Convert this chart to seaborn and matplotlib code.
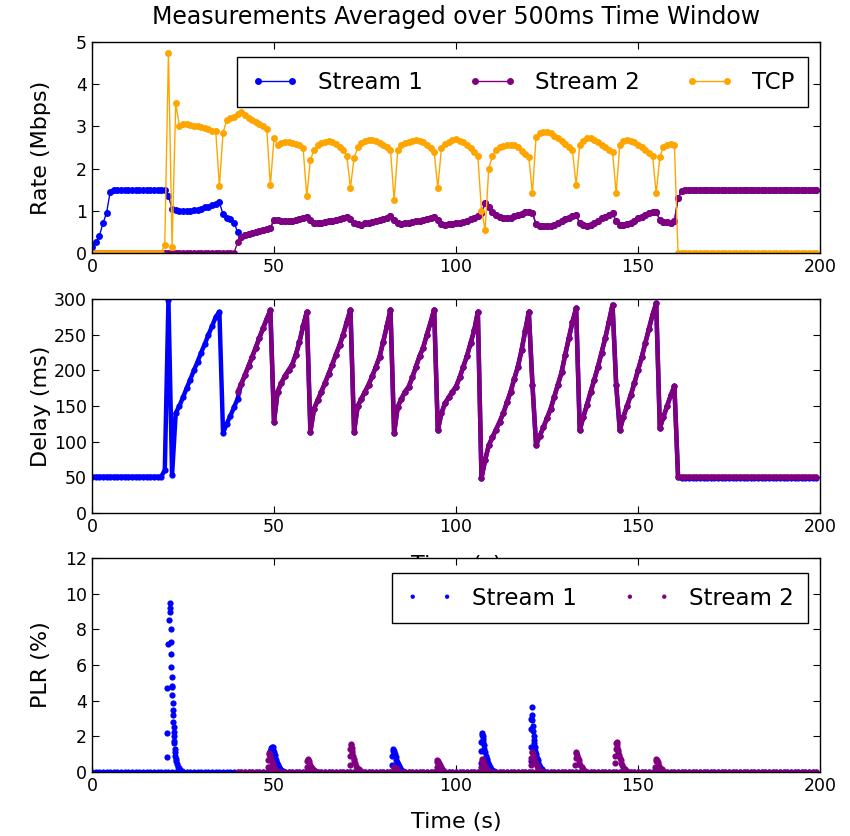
import numpy as np
import pandas as pd
import matplotlib
matplotlib.use("Agg")
import matplotlib.pyplot as plt
import seaborn as sns

# ---------------- data (1 s grid, 0..199 s) ----------------
time_s = np.arange(0, 200, 1.0)

# Rate (Mbps)
rate_s1_early = [0.15, 0.25, 0.4, 0.7, 0.95, 1.45,
                 1.5, 1.5, 1.5, 1.5, 1.5, 1.5, 1.5, 1.5, 1.5, 1.5, 1.5, 1.5, 1.5, 1.5, 1.5,
                 1.35, 1.05, 1.02, 1.0, 1.0, 1.0, 1.0, 1.02, 1.03, 1.05,
                 1.08, 1.1, 1.13, 1.17, 1.2, 0.92, 0.84, 0.8, 0.72, 0.5]          # t 0..40
rate_s2_idle = [0.0] * 40                                                       # t 0..39
rate_s2_active = [
    0.25, 0.38, 0.42, 0.45, 0.47, 0.5, 0.52, 0.54, 0.56, 0.6,
    0.78, 0.78, 0.76, 0.75, 0.76, 0.77, 0.78, 0.8, 0.82, 0.86,
    0.78, 0.72, 0.7, 0.72, 0.74, 0.75, 0.77, 0.79, 0.81, 0.83,
    0.86, 0.8, 0.72, 0.68, 0.67, 0.7, 0.72, 0.74, 0.76, 0.79,
    0.8, 0.83, 0.87, 0.78, 0.7, 0.68, 0.7, 0.72, 0.74, 0.76,
    0.77, 0.78, 0.8, 0.83, 0.86, 0.78, 0.68, 0.66, 0.68, 0.69,
    0.7, 0.72, 0.74, 0.77, 0.8, 0.83, 0.88, 0.95, 1.18, 1.1,
    0.98, 0.9, 0.85, 0.82, 0.82, 0.84, 0.87, 0.9, 0.93, 0.96,
    0.98, 0.95, 0.68, 0.64, 0.63, 0.63, 0.64, 0.67, 0.72, 0.76,
    0.8, 0.84, 0.88, 0.9, 0.7, 0.66, 0.65, 0.67, 0.72, 0.77,
    0.82, 0.86, 0.9, 0.94, 0.75, 0.66, 0.66, 0.68, 0.72, 0.77,
    0.82, 0.86, 0.9, 0.94, 0.97, 0.98, 0.78, 0.74, 0.73, 0.72,
    0.75, 1.3, 1.48]                                                            # t 40..162
rate_s2_final = [1.5] * 37                                                      # t 163..199
tcp_off_start = [0.0] * 20                                                      # t 0..19
tcp_active = [
    0.2, 4.75, 0.15, 3.55, 3.02, 3.05, 3.05, 3.03, 3.02, 3.0,
    2.98, 2.96, 2.93, 2.9, 2.88, 1.58, 2.85, 3.15, 3.2, 3.22,
    3.3, 3.35, 3.28, 3.2, 3.15, 3.1, 3.05, 3.0, 2.95, 1.6,
    2.72, 2.55, 2.6, 2.62, 2.62, 2.6, 2.58, 2.55, 2.48, 1.35,
    2.2, 2.45, 2.55, 2.6, 2.63, 2.65, 2.62, 2.58, 2.52, 2.45,
    2.3, 1.55, 2.25, 2.5, 2.6, 2.65, 2.68, 2.68, 2.65, 2.6,
    2.55, 2.5, 2.45, 1.25, 2.44, 2.55, 2.6, 2.64, 2.66, 2.68,
    2.66, 2.62, 2.55, 2.48, 2.4, 1.55, 2.48, 2.58, 2.64, 2.68,
    2.69, 2.66, 2.62, 2.55, 2.48, 2.4, 2.3, 1.0, 0.55, 2.0,
    2.3, 2.44, 2.5, 2.53, 2.55, 2.56, 2.55, 2.5, 2.42, 2.35,
    2.28, 1.41, 2.76, 2.84, 2.87, 2.87, 2.84, 2.78, 2.72, 2.65,
    2.58, 2.5, 2.43, 1.61, 2.56, 2.66, 2.72, 2.72, 2.68, 2.62,
    2.55, 2.5, 2.45, 2.4, 1.41, 2.56, 2.65, 2.68, 2.66, 2.62,
    2.56, 2.5, 2.45, 2.38, 2.3, 1.41, 2.28, 2.52, 2.56, 2.58,
    2.56]                                                                       # t 20..160
tcp_off_end = [0.0] * 39                                                        # t 161..199

# Delay (ms)
delay_s1_early = [51] * 20 + [
    60, 299, 53, 140, 150, 162, 175, 187, 200, 212,
    225, 237, 250, 262, 275, 282, 112, 125, 136, 148, 160]                      # t 0..40
delay_s2_active = [
    170, 181, 193, 206, 219, 232, 246, 259, 272, 284,
    128, 170, 182, 192, 200, 208, 222, 240, 262, 282,
    114, 146, 158, 170, 182, 195, 208, 222, 235, 250,
    268, 285, 114, 150, 160, 170, 180, 192, 205, 219,
    240, 262, 285, 112, 149, 160, 170, 177, 190, 205,
    220, 232, 250, 267, 285, 116, 140, 154, 162, 170,
    177, 190, 205, 220, 238, 256, 282, 49, 74, 95,
    106, 117, 128, 140, 155, 170, 188, 205, 228, 255,
    282, 180, 95, 108, 120, 133, 146, 163, 180, 197,
    222, 245, 268, 287, 116, 135, 152, 170, 187, 205,
    225, 245, 268, 292, 180, 116, 135, 150, 165, 182,
    200, 218, 238, 258, 278, 294, 119, 135, 150, 165,
    178, 51]                                                                    # t 40..161
delay_s2_final = [51] * 38                                                      # t 162..199
delay_s1_final = [49] * 38                                                      # t 162..199

# PLR (%) : zero baseline on the 1 s grid, plus loss bursts
plr_s1_base = [0.0] * 200
plr_s2_base = [0.0] * 160                                                       # t 40..199
plr_s1_burst_t = [
    20.7, 20.7, 20.7, 21.0, 21.2, 21.3, 21.4, 21.5, 21.6, 21.6, 21.7, 21.8, 21.9, 22.0, 22.0,
    22.1, 22.15, 22.2, 22.25, 22.3, 22.4, 22.45, 22.5, 22.55, 22.6, 22.7, 22.8, 22.9, 23.0,
    23.2, 23.3, 23.5, 23.8, 24.2, 24.8,
    48.6, 48.8, 49.0, 49.2, 49.4, 49.6, 49.8, 50.0, 50.2, 50.4, 50.6, 50.8, 51.0, 51.3, 51.6,
    52.0, 52.5,
    82.3, 82.5, 82.6, 82.8, 83.0, 83.2, 83.4, 83.6, 83.8, 84.0, 84.3, 84.6, 85.0, 85.5,
    106.8, 106.9, 107.0, 107.1, 107.2, 107.3, 107.4, 107.5, 107.6, 107.8, 108.0, 108.2, 108.4,
    108.6, 108.8, 109.0, 109.3, 109.6, 110.0, 110.5,
    120.6, 120.6, 120.7, 120.7, 120.8, 120.9, 121.0, 121.1, 121.2, 121.3, 121.4, 121.5, 121.6,
    121.8, 122.0, 122.2, 122.4, 122.6, 122.9, 123.2, 123.6, 124.0]
plr_s1_burst_v = [
    0.86, 2.2, 4.7, 7.2, 8.5, 9.5, 9.2, 9.0, 7.3, 8.0, 6.6, 5.9, 5.3, 4.8, 4.75,
    4.3, 3.85, 3.5, 3.2, 2.8, 2.55, 2.25, 2.0, 1.75, 1.6, 1.3, 1.1, 0.9, 0.75,
    0.6, 0.45, 0.3, 0.2, 0.1, 0.05,
    0.3, 0.8, 1.2, 1.35, 1.42, 1.38, 1.25, 1.1, 0.95, 0.8, 0.65, 0.5, 0.4, 0.28, 0.18,
    0.1, 0.05,
    0.4, 0.9, 1.2, 1.27, 1.15, 1.0, 0.85, 0.7, 0.55, 0.45, 0.33, 0.22, 0.12, 0.05,
    0.5, 1.2, 1.7, 2.1, 2.2, 2.0, 1.85, 1.7, 1.5, 1.3, 1.1, 0.9, 0.75,
    0.6, 0.48, 0.38, 0.28, 0.18, 0.1, 0.05,
    0.6, 1.4, 2.4, 3.0, 3.66, 3.2, 2.9, 2.6, 2.3, 2.0, 1.8, 1.6, 1.4,
    1.2, 1.0, 0.8, 0.65, 0.5, 0.38, 0.26, 0.16, 0.08]
plr_s2_burst_t = [
    48.3, 48.4, 48.5, 48.6, 48.8, 49.0, 49.2, 49.4, 49.6, 49.8, 50.1, 50.4, 50.8,
    59.1, 59.2, 59.3, 59.5, 59.7, 59.9, 60.2, 60.5, 60.9, 61.4,
    70.8, 70.9, 71.0, 71.1, 71.2, 71.3, 71.4, 71.5, 71.7, 71.9, 72.1, 72.3, 72.6, 72.9, 73.3, 73.8,
    82.9, 83.1, 83.4, 83.8,
    94.7, 94.8, 94.9, 95.1, 95.3, 95.5, 95.8, 96.1, 96.5,
    107.0, 107.1, 107.2, 107.4, 107.6, 107.8, 108.1, 108.4, 108.8,
    120.6, 120.7, 120.8, 120.9, 121.1, 121.3, 121.5, 121.7, 121.9, 122.2, 122.5, 122.9, 123.4,
    132.8, 132.9, 133.0, 133.1, 133.3, 133.5, 133.7, 133.9, 134.2, 134.5, 134.9, 135.4,
    143.8, 143.8, 143.9, 144.0, 144.1, 144.2, 144.3, 144.4, 144.6, 144.8, 145.0, 145.2, 145.4,
    145.7, 146.0, 146.4, 146.9,
    154.8, 154.9, 155.0, 155.2, 155.4, 155.6, 155.8, 156.1, 156.5, 157.0]
plr_s2_burst_v = [
    0.3, 0.7, 1.0, 1.05, 0.95, 0.85, 0.7, 0.55, 0.45, 0.35, 0.25, 0.15, 0.08,
    0.3, 0.6, 0.71, 0.62, 0.5, 0.4, 0.3, 0.2, 0.12, 0.05,
    0.4, 0.9, 1.3, 1.57, 1.5, 1.35, 1.2, 1.05, 0.9, 0.75, 0.6, 0.48, 0.36, 0.25, 0.15, 0.07,
    0.25, 0.3, 0.2, 0.1,
    0.3, 0.55, 0.68, 0.6, 0.48, 0.38, 0.28, 0.18, 0.1,
    0.3, 0.6, 0.75, 0.65, 0.5, 0.38, 0.27, 0.17, 0.08,
    0.4, 0.8, 1.1, 1.14, 1.0, 0.85, 0.7, 0.55, 0.43, 0.32, 0.22, 0.13, 0.06,
    0.4, 0.8, 1.05, 1.1, 0.95, 0.8, 0.65, 0.5, 0.38, 0.26, 0.15, 0.06,
    0.5, 0.9, 1.3, 1.6, 1.7, 1.55, 1.4, 1.25, 1.1, 0.95, 0.8, 0.65, 0.52,
    0.4, 0.28, 0.17, 0.08,
    0.3, 0.6, 0.72, 0.66, 0.55, 0.45, 0.35, 0.25, 0.15, 0.07]

x_ticks = [0, 50, 100, 150, 200]
rate_ticks = [0, 1, 2, 3, 4, 5]
delay_ticks = [0, 50, 100, 150, 200, 250, 300]
plr_ticks = [0, 2, 4, 6, 8, 10, 12]

C1, C2, C3 = "#0000ff", "#800080", "#ffa500"

# ---------------- assemble series ----------------
rate_s2 = rate_s2_idle + rate_s2_active + rate_s2_final
rate_s1 = rate_s1_early + rate_s2_active[1:] + rate_s2_final
tcp = tcp_off_start + tcp_active + tcp_off_end
delay_s2 = delay_s2_active + delay_s2_final
delay_s1 = delay_s1_early + delay_s2_active[1:] + delay_s1_final
t_s2 = time_s[40:]

df_rate = pd.DataFrame({"t": time_s, "s1": rate_s1, "s2": rate_s2, "tcp": tcp})
df_d1 = pd.DataFrame({"t": time_s, "d": delay_s1})
df_d2 = pd.DataFrame({"t": t_s2, "d": delay_s2})
df_p1 = pd.DataFrame({"t": list(time_s) + plr_s1_burst_t, "p": plr_s1_base + plr_s1_burst_v})
df_p2 = pd.DataFrame({"t": list(t_s2) + plr_s2_burst_t, "p": plr_s2_base + plr_s2_burst_v})

# ---------------- style ----------------
sns.set_style("ticks")
plt.rcParams.update({
    "font.family": ["DejaVu Sans"],
    "axes.edgecolor": "black",
    "axes.linewidth": 1.0,
    "xtick.color": "black",
    "ytick.color": "black",
    "xtick.direction": "in",
    "ytick.direction": "in",
    "xtick.top": True,
    "ytick.right": True,
    "xtick.major.size": 5,
    "ytick.major.size": 5,
    "xtick.major.width": 0.8,
    "ytick.major.width": 0.8,
    "xtick.labelsize": 12.5,
    "ytick.labelsize": 12.5,
    "axes.labelsize": 16,
    "text.color": "black",
    "axes.labelcolor": "black",
})

fig = plt.figure(figsize=(8.5, 8.36), dpi=100)
W, H = 850.0, 836.0
def box(top, bottom):
    return [92 / W, 1 - bottom / H, 728 / W, (bottom - top) / H]

ax1 = fig.add_axes(box(42, 253))
ax2 = fig.add_axes(box(299, 513))
ax3 = fig.add_axes(box(558, 772))

line_kw = dict(marker="o", markeredgewidth=0, linewidth=1.0)
leg_kw = dict(fontsize=16.5, frameon=True, fancybox=False, edgecolor="black", framealpha=1,
              handlelength=2.1, handletextpad=0.8, columnspacing=2.0, borderpad=0.6,
              borderaxespad=0.0, loc="upper right")

# Rate
sns.lineplot(data=df_rate, x="t", y="s1", ax=ax1, color=C1, markersize=5, label="Stream 1", **line_kw)
sns.lineplot(data=df_rate, x="t", y="s2", ax=ax1, color=C2, markersize=5, label="Stream 2", **line_kw)
sns.lineplot(data=df_rate, x="t", y="tcp", ax=ax1, color=C3, markersize=5, label="TCP", **line_kw)
ax1.set_xlim(0, 200)
ax1.set_ylim(0, 5)
ax1.set_xticks(x_ticks)
ax1.set_yticks(rate_ticks)
ax1.set_xlabel("")
ax1.set_ylabel("Rate (Mbps)")
ax1.set_title("Measurements Averaged over 500ms Time Window", fontsize=17, pad=13)
ax1.legend(ncol=3, numpoints=2, bbox_to_anchor=(0.9835, 0.929), **leg_kw)

# Delay
sns.lineplot(data=df_d1, x="t", y="d", ax=ax2, color=C1, markersize=4.5, marker="o",
             markeredgewidth=0, linewidth=3.2)
sns.lineplot(data=df_d2, x="t", y="d", ax=ax2, color=C2, markersize=4.5, marker="o",
             markeredgewidth=0, linewidth=3.2)
ax2.set_xlim(0, 200)
ax2.set_ylim(0, 300)
ax2.set_xticks(x_ticks)
ax2.set_yticks(delay_ticks)
ax2.set_xlabel("Time (s)")
ax2.set_ylabel("Delay (ms)")

# PLR
sns.scatterplot(data=df_p1, x="t", y="p", ax=ax3, color=C1, s=20, linewidth=0, label="Stream 1")
sns.scatterplot(data=df_p2, x="t", y="p", ax=ax3, color=C2, s=20, linewidth=0, label="Stream 2")
ax3.set_xlim(0, 200)
ax3.set_ylim(0, 12)
ax3.set_xticks(x_ticks)
ax3.set_yticks(plr_ticks)
ax3.set_xlabel("Time (s)")
ax3.set_ylabel("PLR (%)")
ax3.legend(ncol=2, scatterpoints=2, scatteryoffsets=[0.5], markerscale=0.7,
           bbox_to_anchor=(0.9835, 0.93), **leg_kw)

for ax in (ax1, ax2, ax3):
    ax.yaxis.set_label_coords(-0.056, 0.5)
ax2.xaxis.set_label_coords(0.5, -0.197)
ax3.xaxis.set_label_coords(0.5, -0.187)

fig.savefig("out.png", dpi=100)
